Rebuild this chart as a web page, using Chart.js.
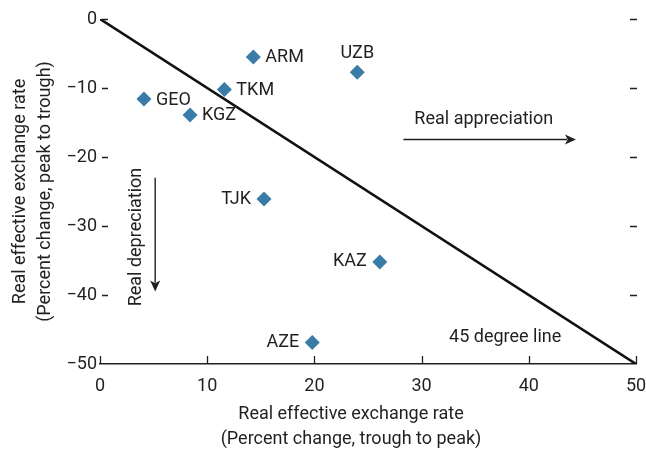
<!DOCTYPE html>
<html>
<head>
<meta charset="utf-8">
<script src="https://cdn.jsdelivr.net/npm/chart.js@4"></script>
<style>
html,body{margin:0;padding:0;background:#fff;}
#wrap{width:646px;height:452px;position:relative;}
</style>
</head>
<body>
<div id="wrap"><canvas id="c"></canvas></div>
<script>
// ---- data ----
const countries = ['ARM','UZB','GEO','TKM','KGZ','TJK','KAZ','AZE'];
const troughToPeak = [14.3, 24.0, 4.1, 11.6, 8.4, 15.3, 26.1, 19.8];
const peakToTrough = [-5.5, -7.7, -11.6, -10.2, -13.9, -26.1, -35.2, -46.9];
const labelSide = ['right','above','right','right','right','left','left','left'];
const xTicks = [0, 10, 20, 30, 40, 50];
const yTicks = [0, -10, -20, -30, -40, -50];
const lineX = [0, 50];
const lineY = [0, -50];
const xTitle = ['Real effective exchange rate', '(Percent change, trough to peak)'];
const yTitle = ['Real effective exchange rate', '(Percent change, peak to trough)'];

const FONT = "Roboto, 'DejaVu Sans Condensed', sans-serif";
const TXT = '#231f20';
const BLUE = '#3a7ca8';
const FS = 18;

const points = countries.map((c, i) => ({x: troughToPeak[i], y: peakToTrough[i]}));
const linePts = lineX.map((x, i) => ({x: x, y: lineY[i]}));

function arrow(ctx, x1, y1, x2, y2) {
  const ang = Math.atan2(y2 - y1, x2 - x1);
  const hl = 11, hw = 5;
  ctx.beginPath();
  ctx.moveTo(x1, y1);
  ctx.lineTo(x2 - Math.cos(ang) * hl * 0.8, y2 - Math.sin(ang) * hl * 0.8);
  ctx.stroke();
  ctx.beginPath();
  ctx.moveTo(x2, y2);
  ctx.lineTo(x2 - Math.cos(ang) * hl + Math.sin(ang) * hw, y2 - Math.sin(ang) * hl - Math.cos(ang) * hw);
  ctx.lineTo(x2 - Math.cos(ang) * hl * 0.75, y2 - Math.sin(ang) * hl * 0.75);
  ctx.lineTo(x2 - Math.cos(ang) * hl - Math.sin(ang) * hw, y2 - Math.sin(ang) * hl + Math.cos(ang) * hw);
  ctx.closePath();
  ctx.fill();
}

const decor = {
  id: 'decor',
  afterDatasetsDraw(chart) {
    const {ctx, scales: {x, y}, chartArea} = chart;
    ctx.save();
    ctx.strokeStyle = TXT;
    ctx.fillStyle = TXT;
    ctx.lineWidth = 1.3;
    // x tick marks (pointing up, inside)
    xTicks.forEach(v => {
      const px = Math.round(x.getPixelForValue(v)) + 0.5;
      ctx.beginPath();
      ctx.moveTo(px, chartArea.bottom);
      ctx.lineTo(px, chartArea.bottom - 8);
      ctx.stroke();
    });
    // y tick marks left & right (inside)
    yTicks.forEach(v => {
      if (v === -50) return;
      const py = Math.round(y.getPixelForValue(v)) + 0.5;
      ctx.beginPath();
      ctx.moveTo(chartArea.left + 2, py);
      ctx.lineTo(chartArea.left + 8, py);
      ctx.moveTo(chartArea.right - 6, py);
      ctx.lineTo(chartArea.right + 1, py);
      ctx.stroke();
    });
    // point labels
    ctx.font = FS + 'px ' + FONT;
    ctx.textBaseline = 'middle';
    const meta = chart.getDatasetMeta(1);
    meta.data.forEach((el, i) => {
      const side = labelSide[i];
      if (side === 'right') {
        ctx.textAlign = 'left';
        ctx.fillText(countries[i], el.x + 12, el.y + 1);
      } else if (side === 'left') {
        ctx.textAlign = 'right';
        ctx.fillText(countries[i], el.x - 13, el.y);
      } else {
        ctx.textAlign = 'center';
        ctx.fillText(countries[i], el.x, el.y - 19);
      }
    });
    // x axis title (two lines)
    ctx.textAlign = 'center';
    ctx.fillText(xTitle[0], 351, chartArea.bottom + 50);
    ctx.fillText(xTitle[1], 351, chartArea.bottom + 75);
    // annotations
    ctx.fillText('Real appreciation', x.getPixelForValue(35.8), y.getPixelForValue(-14.6));
    ctx.fillText('45 degree line', x.getPixelForValue(37.8), y.getPixelForValue(-46.1));
    ctx.lineWidth = 1.4;
    arrow(ctx, x.getPixelForValue(28.3), y.getPixelForValue(-17.4) + 0.5, x.getPixelForValue(44.4), y.getPixelForValue(-17.4) + 0.5);
    arrow(ctx, x.getPixelForValue(5.1) + 0.5, y.getPixelForValue(-23.0), x.getPixelForValue(5.1) + 0.5, y.getPixelForValue(-39.5));
    ctx.save();
    ctx.translate(x.getPixelForValue(3.4), y.getPixelForValue(-31.6));
    ctx.rotate(-Math.PI / 2);
    ctx.textAlign = 'center';
    ctx.fillText('Real depreciation', 0, 0);
    ctx.restore();
    ctx.restore();
  }
};

new Chart(document.getElementById('c'), {
  type: 'scatter',
  data: {
    datasets: [
      {
        type: 'line',
        data: linePts,
        borderColor: '#111',
        borderWidth: 2.6,
        pointRadius: 0,
        fill: false
      },
      {
        data: points,
        pointStyle: 'rectRot',
        pointRadius: 7.5,
        pointHoverRadius: 7.5,
        backgroundColor: BLUE,
        borderColor: BLUE,
        borderWidth: 0
      }
    ]
  },
  options: {
    responsive: true,
    maintainAspectRatio: false,
    animation: false,
    events: [],
    layout: {padding: {top: 19, right: 0, left: 0, bottom: 0}},
    plugins: {legend: {display: false}, tooltip: {enabled: false}},
    scales: {
      x: {
        type: 'linear',
        min: 0, max: 50,
        afterBuildTicks: s => { s.ticks = xTicks.map(v => ({value: v})); },
        afterFit: s => { s.height = 88; s.paddingRight = 10; },
        grid: {display: false, drawTicks: false},
        border: {display: true, color: TXT, width: 1.4},
        ticks: {color: TXT, padding: 12, font: {family: FONT, size: FS}},
        title: {display: false}
      },
      y: {
        type: 'linear',
        min: -50, max: 0,
        afterBuildTicks: s => { s.ticks = yTicks.map(v => ({value: v})); },
        afterFit: s => { s.width = 100; },
        grid: {display: false, drawTicks: false},
        border: {display: false},
        ticks: {
          color: TXT, padding: 3, font: {family: FONT, size: FS},
          callback: v => String(v).replace('-', '\u2212')
        },
        title: {
          display: true,
          text: yTitle,
          color: TXT,
          font: {family: FONT, size: FS, lineHeight: 25 / FS},
          padding: {top: 8, bottom: 0}
        }
      }
    }
  },
  plugins: [decor]
});
</script>
</body>
</html>
